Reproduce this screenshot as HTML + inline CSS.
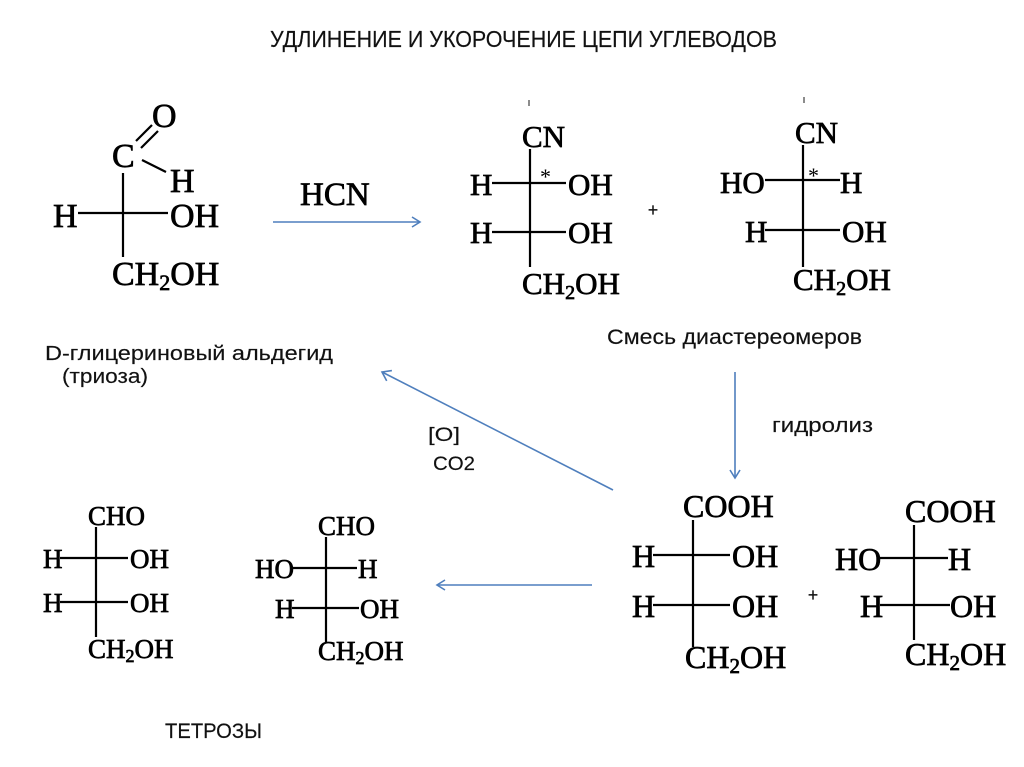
<!DOCTYPE html>
<html><head><meta charset="utf-8"><style>
html,body{margin:0;padding:0;background:#fff;}
svg{display:block;}
.s{font-family:"Liberation Sans",sans-serif;fill:#111;stroke:#111;stroke-width:0.15;}
.c{font-family:"Liberation Serif",serif;fill:#000;stroke:#000;stroke-width:0.7;}
.b{stroke:#000;stroke-width:2.2;fill:none;}
.a{stroke:#4f7fbd;stroke-width:1.6;fill:none;}
</style></head><body>
<svg width="1024" height="767" viewBox="0 0 1024 767" xmlns="http://www.w3.org/2000/svg">
<rect width="1024" height="767" fill="#fff"/>
<!-- title -->
<text class="s" x="270" y="47" font-size="23" textLength="507" lengthAdjust="spacingAndGlyphs">УДЛИНЕНИЕ И УКОРОЧЕНИЕ ЦЕПИ УГЛЕВОДОВ</text>

<!-- glyceraldehyde -->
<g class="c" font-size="34">
<text x="152" y="127">O</text>
<text x="112" y="167">C</text>
<text x="170" y="192">H</text>
<text x="53" y="227">H</text>
<text x="170" y="227">OH</text>
<text x="112" y="285">CH<tspan font-size="22" dy="5">2</tspan><tspan dy="-5">OH</tspan></text>
</g>
<line class="b" x1="136" y1="141" x2="152" y2="125"/>
<line class="b" x1="141" y1="148" x2="158" y2="131"/>
<line class="b" x1="142" y1="160" x2="166" y2="172"/>
<line class="b" x1="123" y1="173" x2="123" y2="257"/>
<line class="b" x1="78" y1="213" x2="168" y2="213"/>

<!-- HCN arrow -->
<text class="c" x="300" y="205" font-size="33">HCN</text>
<line class="a" x1="273" y1="222" x2="420" y2="222"/>
<polyline class="a" points="412,217 420,222 412,227"/>

<!-- CN left -->
<g class="c" font-size="31">
<text x="522" y="147">CN</text>
<text x="470" y="195">H</text>
<text x="568" y="195">OH</text>
<text x="470" y="243">H</text>
<text x="568" y="243">OH</text>
<text x="522" y="294">CH<tspan font-size="20" dy="5">2</tspan><tspan dy="-5">OH</tspan></text>
</g>
<text x="540" y="184" font-size="22" font-family="Liberation Serif, serif">*</text>
<line class="b" x1="530" y1="149" x2="530" y2="267"/>
<line class="b" x1="492" y1="183" x2="566" y2="183"/>
<line class="b" x1="492" y1="232" x2="566" y2="232"/>
<text class="s" x="653" y="216" font-size="18" text-anchor="middle">+</text>

<!-- CN right -->
<g class="c" font-size="31">
<text x="795" y="143">CN</text>
<text x="720" y="193">HO</text>
<text x="840" y="193">H</text>
<text x="745" y="242">H</text>
<text x="842" y="242">OH</text>
<text x="793" y="290">CH<tspan font-size="20" dy="5">2</tspan><tspan dy="-5">OH</tspan></text>
</g>
<text x="808" y="183" font-size="22" font-family="Liberation Serif, serif">*</text>
<line class="b" x1="803" y1="145" x2="803" y2="267"/>
<line class="b" x1="765" y1="180" x2="840" y2="180"/>
<line class="b" x1="765" y1="230" x2="840" y2="230"/>
<line x1="529" y1="100" x2="529" y2="106" stroke="#666" stroke-width="1.5"/>
<line x1="804" y1="97" x2="804" y2="103" stroke="#666" stroke-width="1.5"/>

<!-- labels -->
<text class="s" x="607" y="344" font-size="21" textLength="255" lengthAdjust="spacingAndGlyphs">Смесь диастереомеров</text>
<text class="s" x="45" y="360" font-size="20" textLength="288" lengthAdjust="spacingAndGlyphs">D-глицериновый альдегид</text>
<text class="s" x="62" y="383" font-size="20" textLength="86" lengthAdjust="spacingAndGlyphs">(триоза)</text>
<text class="s" x="772" y="432" font-size="20" textLength="101" lengthAdjust="spacingAndGlyphs">гидролиз</text>
<text class="s" x="428" y="441" font-size="19" textLength="32" lengthAdjust="spacingAndGlyphs">[O]</text>
<text class="s" x="433" y="470" font-size="19" textLength="42" lengthAdjust="spacingAndGlyphs">CO2</text>
<text class="s" x="165" y="738" font-size="21" textLength="97" lengthAdjust="spacingAndGlyphs">ТЕТРОЗЫ</text>

<!-- arrows -->
<line class="a" x1="735" y1="372" x2="735" y2="478"/>
<polyline class="a" points="730,470 735,478 740,470"/>
<line class="a" x1="613" y1="490" x2="382" y2="372"/>
<polyline class="a" points="386.7,380.9 382,372 391.9,370.6"/>
<line class="a" x1="592" y1="585" x2="437" y2="585"/>
<polyline class="a" points="445,580 437,585 445,590"/>

<!-- COOH left -->
<g class="c" font-size="32">
<text x="683" y="517">COOH</text>
<text x="632" y="567">H</text>
<text x="732" y="567">OH</text>
<text x="632" y="617">H</text>
<text x="732" y="617">OH</text>
<text x="685" y="668">CH<tspan font-size="21" dy="5">2</tspan><tspan dy="-5">OH</tspan></text>
</g>
<line class="b" x1="693" y1="520" x2="693" y2="647"/>
<line class="b" x1="653" y1="555" x2="730" y2="555"/>
<line class="b" x1="653" y1="605" x2="730" y2="605"/>
<text class="s" x="813" y="601" font-size="18" text-anchor="middle">+</text>

<!-- COOH right -->
<g class="c" font-size="32">
<text x="905" y="522">COOH</text>
<text x="835" y="570">HO</text>
<text x="948" y="570">H</text>
<text x="860" y="617">H</text>
<text x="950" y="617">OH</text>
<text x="905" y="665">CH<tspan font-size="21" dy="5">2</tspan><tspan dy="-5">OH</tspan></text>
</g>
<line class="b" x1="914" y1="525" x2="914" y2="640"/>
<line class="b" x1="877" y1="558" x2="948" y2="558"/>
<line class="b" x1="880" y1="605" x2="950" y2="605"/>

<!-- tetrose left -->
<g class="c" font-size="27">
<text x="88" y="525">CHO</text>
<text x="43" y="568">H</text>
<text x="130" y="568">OH</text>
<text x="43" y="612">H</text>
<text x="130" y="612">OH</text>
<text x="88" y="658">CH<tspan font-size="18" dy="4">2</tspan><tspan dy="-4">OH</tspan></text>
</g>
<line class="b" x1="96" y1="527" x2="96" y2="637"/>
<line class="b" x1="60" y1="558" x2="128" y2="558"/>
<line class="b" x1="60" y1="602" x2="128" y2="602"/>

<!-- tetrose right -->
<g class="c" font-size="27">
<text x="318" y="535">CHO</text>
<text x="255" y="578">HO</text>
<text x="358" y="578">H</text>
<text x="275" y="618">H</text>
<text x="360" y="618">OH</text>
<text x="318" y="660">CH<tspan font-size="18" dy="4">2</tspan><tspan dy="-4">OH</tspan></text>
</g>
<line class="b" x1="326" y1="537" x2="326" y2="643"/>
<line class="b" x1="292" y1="568" x2="357" y2="568"/>
<line class="b" x1="292" y1="608" x2="359" y2="608"/>
</svg>
</body></html>
